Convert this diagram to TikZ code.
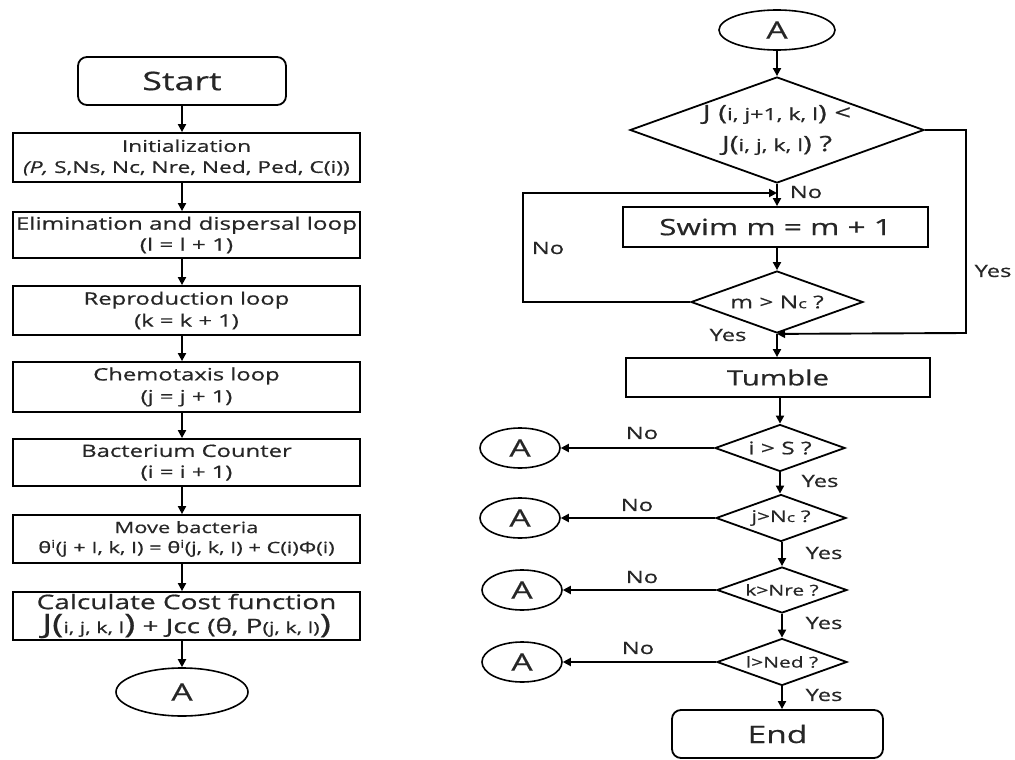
\documentclass[tikz,border=0pt]{standalone}
\usepackage{fontspec}
\setmainfont[FakeStretch=1.4,FakeBold=0.6]{Open Sans}
\usetikzlibrary{shapes.geometric,arrows.meta}
\begin{document}
\begin{tikzpicture}[x=1pt,y=-1pt,
  box/.style={draw,line width=1.8pt,inner sep=0pt,align=center,text=black!85},
  term/.style={box,rounded corners=9pt},
  conn/.style={draw,ellipse,line width=1.6pt,inner sep=0pt,text=black!85,font=\fontsize{24}{26}\selectfont},
  dec/.style={draw,diamond,aspect=2.8,line width=1.8pt,inner sep=0pt,align=center,text=black!85},
  arr/.style={line width=1.9pt,-{Triangle[length=8pt,width=8pt]}},
  lab/.style={text=black!85,font=\fontsize{17}{20}\selectfont,inner sep=0pt}]
\fill[white] (0,0) rectangle (1015,760);
\useasboundingbox (0,0) rectangle (1015,760);
% ---------- left column ----------
\node[term,minimum width=208,minimum height=48,font=\fontsize{25.5}{30}\selectfont] (start) at (182,81) {Start};
\node[box,minimum width=347,minimum height=49,font=\fontsize{16.3}{21}\selectfont] (init) at (186.5,157.5)
  {Initialization\\ \textit{(P,} S,Ns, Nc, Nre, Ned, Ped, C(i))};
\node[box,minimum width=347,minimum height=46,font=\fontsize{17.3}{21}\selectfont] (elim) at (186.5,235)
  {Elimination and dispersal loop\\ (l = l + 1)};
\node[box,minimum width=347,minimum height=49,font=\fontsize{17}{22}\selectfont] (repro) at (186.5,310.5)
  {Reproduction loop\\ (k = k + 1)};
\node[box,minimum width=347,minimum height=50,font=\fontsize{17}{22}\selectfont] (chemo) at (186.5,387)
  {Chemotaxis loop\\ (j = j + 1)};
\node[box,minimum width=347,minimum height=47,font=\fontsize{17}{21}\selectfont] (bact) at (186.5,462.5)
  {Bacterium Counter\\ (i = i + 1)};
\node[box,minimum width=347,minimum height=48,font=\fontsize{15.6}{20}\selectfont] (move) at (186.5,539)
  {Move bacteria\\ θ\textsuperscript{i}(j + I, k, I) = θ\textsuperscript{i}(j, k, I) + C(i)Φ(i)};
\node[box,minimum width=347,minimum height=48,font=\fontsize{20}{24}\selectfont] (calc) at (186.5,616)
  {Calculate Cost function\\ {\fontsize{27}{25}\selectfont J(}{\fontsize{15.5}{14}\selectfont i, j, k, l}{\fontsize{27}{25}\selectfont)} + Jcc ({θ}, P{\fontsize{15.5}{14}\selectfont (j, k, l)}{\fontsize{27}{25}\selectfont)}};
\node[conn,minimum width=132,minimum height=48] (A0) at (182,692) {A};
\foreach \a/\b in {start/init,init/elim,elim/repro,repro/chemo,chemo/bact,bact/move,move/calc}
  \draw[arr] (\a.south -| start) -- (\b.north -| start);
\draw[arr] (calc.south -| start) -- (A0.north);
% ---------- right column ----------
\node[conn,minimum width=116,minimum height=40] (At) at (777,30) {A};
\node[dec,minimum width=294,minimum height=106,font=\fontsize{21}{25}\selectfont] (dJ) at (777,130)
  {J ({\fontsize{16.5}{16}\selectfont i, j+1, k, l}) <\\[6pt] J({\fontsize{16.5}{16}\selectfont i, j, k, l}) ?};
\node[box,minimum width=305,minimum height=40,font=\fontsize{22.5}{25}\selectfont] (swim) at (775.5,227) {Swim m = m + 1};
\node[dec,minimum width=172,minimum height=62,font=\fontsize{17.5}{22}\selectfont] (dm) at (777,302) {m > N{\fontsize{13}{14}\selectfont c} ?};
\node[box,minimum width=304,minimum height=39,font=\fontsize{21}{25}\selectfont] (tumble) at (778,377.5) {Tumble};
\node[dec,minimum width=130,minimum height=47,font=\fontsize{17.5}{18}\selectfont] (dS) at (780,448) {i > S ?};
\node[dec,minimum width=130,minimum height=47,font=\fontsize{16}{17}\selectfont] (dNc) at (781,518) {j>N{\fontsize{12.5}{11}\selectfont c} ?};
\node[dec,minimum width=130,minimum height=46,font=\fontsize{15}{16}\selectfont] (dNre) at (782,590) {k>Nre ?};
\node[dec,minimum width=130,minimum height=47,font=\fontsize{15}{16}\selectfont] (dNed) at (782,662) {l>Ned ?};
\node[term,minimum width=211,minimum height=48,font=\fontsize{24}{28}\selectfont] (end) at (777.5,734) {End};
\node[conn,minimum width=80,minimum height=40] (A1) at (520,448) {A};
\node[conn,minimum width=80,minimum height=40] (A2) at (520,518) {A};
\node[conn,minimum width=80,minimum height=40] (A3) at (522,590) {A};
\node[conn,minimum width=80,minimum height=40] (A4) at (522,662) {A};
% connectors
\draw[arr] (At.south -| dJ.north) -- (dJ.north);
\draw[arr] (dJ.south) -- (dJ.south |- swim.north);
\draw[arr] (swim.south -| dm.north) -- (dm.north);
\draw[arr] (dm.south) -- (dm.south |- tumble.north);
\draw[arr] (tumble.south -| dS.north) -- (dS.north);
\draw[arr] (dS.south) -- (dS.south |- dNc.north);
\draw[arr] (dNc.south -| dNre.north) -- (dNre.north);
\draw[arr] (dNre.south) -- (dNed.north);
\draw[arr] (dNed.south) -- (dNed.south |- end.north);
\coordinate (nj) at (777,193);
\coordinate (nl1) at (523,302);
\coordinate (nl2) at (523,193);
\draw[arr] (dm.west) -- (nl1) -- (nl2) -- (nj);
\coordinate (yr1) at (966,130);
\coordinate (yr2) at (966,333);
\draw[arr] (dJ.east) -- (yr1) -- (yr2) -- (dm.south);
\draw[arr] (dS.west) -- (A1.east);
\draw[arr] (dNc.west) -- (A2.east);
\draw[arr] (dNre.west) -- (A3.east);
\draw[arr] (dNed.west) -- (A4.east);
% labels
\node[lab] (lNo0) at (806,192) {No};
\node[lab] (lNo1) at (548,248) {No};
\node[lab] (lYes0) at (993,271) {Yes};
\node[lab] (lYes1) at (728,335) {Yes};
\node[lab] (lNo2) at (642,433) {No};
\node[lab] (lNo3) at (637,505) {No};
\node[lab] (lNo4) at (642,577) {No};
\node[lab] (lNo5) at (638,648) {No};
\node[lab] (lYes2) at (820,481) {Yes};
\node[lab] (lYes3) at (824,553) {Yes};
\node[lab] (lYes4) at (824,623) {Yes};
\node[lab] (lYes5) at (824,695) {Yes};
\end{tikzpicture}
\end{document}
